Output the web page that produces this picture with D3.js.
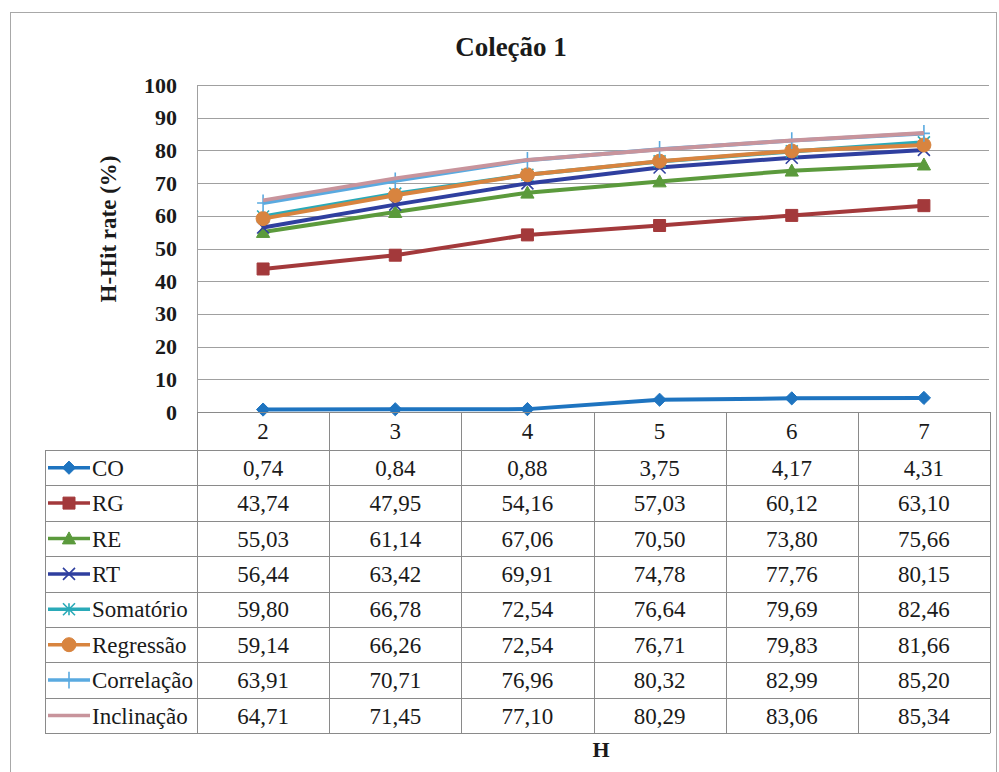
<!DOCTYPE html>
<html><head><meta charset="utf-8">
<script src="https://cdn.jsdelivr.net/npm/d3@7"></script>
<style>body{margin:0;background:#fff}svg{display:block}</style>
</head><body>
<svg id="c" width="999" height="772"></svg>
<script>
const categories = ["2","3","4","5","6","7"];
const seriesNames = ["CO","RG","RE","RT","Somatório","Regressão","Correlação","Inclinação"];
const CO = [0.74,0.84,0.88,3.75,4.17,4.31];
const RG = [43.74,47.95,54.16,57.03,60.12,63.10];
const RE = [55.03,61.14,67.06,70.50,73.80,75.66];
const RT = [56.44,63.42,69.91,74.78,77.76,80.15];
const Somatorio = [59.80,66.78,72.54,76.64,79.69,82.46];
const Regressao = [59.14,66.26,72.54,76.71,79.83,81.66];
const Correlacao = [63.91,70.71,76.96,80.32,82.99,85.20];
const Inclinacao = [64.71,71.45,77.10,80.29,83.06,85.34];
const yTicks = [0,10,20,30,40,50,60,70,80,90,100];
const colors = ["#1e74c0","#a3393b","#5b9a3c","#2f3f9f","#2aaab8","#d8843f","#5aaae0","#c8949c"];
const markers = ["diamond","square","triangle","x","asterisk","circle","plus","none"];
const values = [CO,RG,RE,RT,Somatorio,Regressao,Correlacao,Inclinacao];
const fmt = v => v.toFixed(2).replace(".", ",");

const svg = d3.select("#c");
const FF = '"Liberation Serif"';
const L = 197, R = 990, T = 85, B = 412;
const x = d3.scaleBand().domain(categories).range([L, R]);
const y = d3.scaleLinear().domain([0,100]).range([B, T]);
const TXT = "#1a1a1a";

// outer frame
svg.append("rect").attr("x",10.5).attr("y",12.5).attr("width",986).attr("height",800)
  .attr("fill","none").attr("stroke","#a8a8a8");

// title
svg.append("text").attr("x",511).attr("y",56).attr("text-anchor","middle")
  .style("font-family",FF).style("font-weight","bold").style("font-size","27px").attr("fill",TXT).text("Coleção 1");

// gridlines
svg.append("g").selectAll("line").data(yTicks).join("line")
  .attr("x1",L).attr("x2",R-1).attr("y1",d=>Math.round(y(d))+0.5).attr("y2",d=>Math.round(y(d))+0.5)
  .attr("stroke","#a0a0a0").attr("stroke-width",1);
svg.append("line").attr("x1",L+0.5).attr("x2",L+0.5).attr("y1",T).attr("y2",B).attr("stroke","#a0a0a0");

// y axis labels
const yAxis = d3.axisLeft(y).tickValues(yTicks).tickSize(0).tickPadding(20);
const ga = svg.append("g").attr("transform",`translate(${L},0)`).call(yAxis);
ga.attr("font-family",null).attr("font-size",null);
ga.select(".domain").remove();
ga.selectAll("text").style("font-family",FF)
  .style("font-size","22px").style("font-weight","bold").attr("fill",TXT);

svg.append("text").attr("transform","translate(116,229) rotate(-90)").attr("text-anchor","middle")
  .style("font-family",FF).style("font-weight","bold").style("font-size","23px").attr("fill",TXT).text("H-Hit rate (%)");

// symbols
function symPath(type, s) {
  const h = s/2;
  switch(type){
    case "diamond": return `M0,${-h*1.1}L${h*1.1},0L0,${h*1.1}L${-h*1.1},0Z`;
    case "square": return `M${-h},${-h}H${h}V${h}H${-h}Z`;
    case "triangle": return `M0,${-h*1.1}L${h*1.1},${h*0.9}L${-h*1.1},${h*0.9}Z`;
    case "circle": return d3.symbol().type(d3.symbolCircle).size(Math.PI*h*h)();
    case "x": return `M${-h},${-h}L${h},${h}M${-h},${h}L${h},${-h}`;
    case "asterisk": return `M${-h},${-h}L${h},${h}M${-h},${h}L${h},${-h}M0,${-h}V${h}`;
    case "plus": return `M0,${-h*1.4}V${h*1.4}M${-h},0H${h}`;
  }
  return null;
}
const filled = t => ["diamond","square","triangle","circle"].includes(t);
const msize = t => t==="circle" ? 14 : 12;

// lines
const line = d3.line().x((d,i)=>x(categories[i])+x.bandwidth()/2).y(d=>y(d));
seriesNames.forEach((name, si) => {
  const g = svg.append("g");
  g.append("path").datum(values[si]).attr("d",line).attr("fill","none")
    .attr("stroke",colors[si]).attr("stroke-width",4).attr("stroke-linejoin","round");
  const t = markers[si];
  if (t !== "none") {
    g.selectAll("path.m").data(values[si]).join("path").attr("class","m")
      .attr("transform",(d,i)=>`translate(${x(categories[i])+x.bandwidth()/2},${y(d)})`)
      .attr("d",symPath(t, msize(t)))
      .attr("fill",filled(t)?colors[si]:"none")
      .attr("stroke",colors[si]).attr("stroke-width",filled(t)?1:1.6);
  }
});

// data table
const rowTop = 450, rowH = 35.4, TL = 45;
const nRows = seriesNames.length;
const tb = svg.append("g");
const gridC = "#8a8a8a";
const bounds = categories.map(c => x(c)).concat([R]);
tb.selectAll("line.hv").data(bounds).join("line").attr("class","hv")
  .attr("x1",d=>Math.round(d)+0.5).attr("x2",d=>Math.round(d)+0.5)
  .attr("y1",B).attr("y2",rowTop+nRows*rowH).attr("stroke",gridC);
tb.append("line").attr("x1",TL+0.5).attr("x2",TL+0.5).attr("y1",rowTop).attr("y2",rowTop+nRows*rowH).attr("stroke",gridC);
const hl = d3.range(nRows+1).map(i => rowTop + i*rowH);
tb.selectAll("line.hh").data(hl).join("line").attr("class","hh")
  .attr("x1",TL).attr("x2",R).attr("y1",d=>Math.round(d)+0.5).attr("y2",d=>Math.round(d)+0.5).attr("stroke",gridC);
tb.append("line").attr("x1",L).attr("x2",R).attr("y1",B+0.5).attr("y2",B+0.5).attr("stroke",gridC);
tb.selectAll("text.cat").data(categories).join("text").attr("class","cat")
  .attr("x",d=>x(d)+x.bandwidth()/2).attr("y",(B+rowTop)/2+8).attr("text-anchor","middle")
  .style("font-family",FF).style("font-size","23px").attr("fill",TXT).text(d=>d);
seriesNames.forEach((name, si) => {
  const cy = rowTop + si*rowH + rowH/2;
  const r = tb.append("g");
  r.append("line").attr("x1",48).attr("x2",90).attr("y1",cy).attr("y2",cy)
    .attr("stroke",colors[si]).attr("stroke-width",3.5);
  const t = markers[si];
  if (t !== "none") {
    r.append("path").attr("transform",`translate(69,${cy})`).attr("d",symPath(t, msize(t)))
      .attr("fill",filled(t)?colors[si]:"none").attr("stroke",colors[si]).attr("stroke-width",filled(t)?1:1.6);
  }
  r.append("text").attr("x",92).attr("y",cy+8).style("font-family",FF).style("font-size","23px")
    .attr("fill",TXT).text(name);
  r.selectAll("text.v").data(values[si]).join("text").attr("class","v")
    .attr("x",(d,i)=>x(categories[i])+x.bandwidth()/2).attr("y",cy+8).attr("text-anchor","middle")
    .style("font-family",FF).style("font-size","23px").attr("fill",TXT).text(d=>fmt(d));
});

// x axis title
svg.append("text").attr("x",601).attr("y",757).attr("text-anchor","middle")
  .style("font-family",FF).style("font-weight","bold").style("font-size","22px").attr("fill",TXT).text("H");
</script>
</body></html>
